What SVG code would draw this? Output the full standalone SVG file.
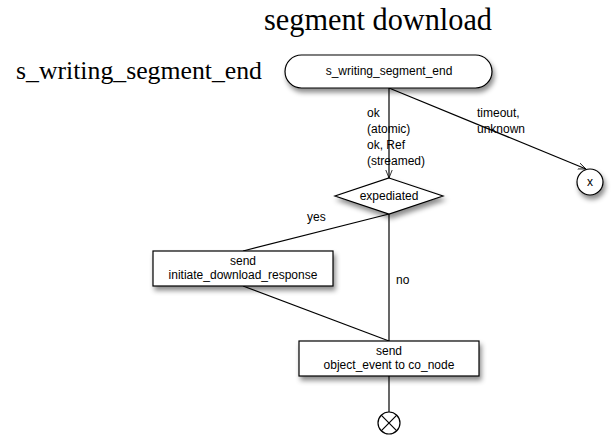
<svg xmlns="http://www.w3.org/2000/svg" width="614" height="436" viewBox="0 0 614 436">
<defs>
<filter id="sh" x="-20%" y="-20%" width="150%" height="160%">
<feDropShadow dx="2" dy="4" stdDeviation="2.5" flood-color="#000" flood-opacity="0.45"/>
</filter>
<marker id="arr" viewBox="0 0 10 10" refX="10" refY="5" markerWidth="8" markerHeight="8" orient="auto" markerUnits="userSpaceOnUse">
<path d="M0,1 L10,5 L0,9" fill="none" stroke="#000" stroke-width="1"/>
</marker>
</defs>
<style>
.n{fill:#fff;stroke:#000;stroke-width:1.2;filter:url(#sh)}
.t{font-family:"Liberation Sans",Arial,sans-serif;font-size:12px;fill:#000}
.c{text-anchor:middle}
.e{stroke:#000;stroke-width:1.2;fill:none}
.h{font-family:"Liberation Serif","DejaVu Serif",serif;fill:#000}
</style>
<rect width="614" height="436" fill="#fff"/>
<text class="h" x="264" y="30" font-size="31" textLength="228" lengthAdjust="spacingAndGlyphs">segment download</text>
<text class="h" x="16" y="79" font-size="25" textLength="246" lengthAdjust="spacingAndGlyphs">s_writing_segment_end</text>
<g id="connectors">
<line class="e" x1="389" y1="88" x2="389" y2="178" marker-end="url(#arr)"/>
<line class="e" x1="389" y1="88" x2="586" y2="169" marker-end="url(#arr)"/>
<line class="e" x1="389" y1="214" x2="243" y2="251"/>
<line class="e" x1="389" y1="214" x2="389" y2="341"/>
<line class="e" x1="243" y1="286" x2="389" y2="341"/>
<line class="e" x1="389" y1="376" x2="389" y2="412"/>
<text class="t" x="367" y="117">ok</text>
<text class="t" x="367" y="133">(atomic)</text>
<text class="t" x="367" y="149">ok, Ref</text>
<text class="t" x="367" y="165">(streamed)</text>
<text class="t" x="477" y="117">timeout,</text>
<text class="t" x="477" y="133">unknown</text>
<text class="t" x="307" y="221">yes</text>
<text class="t" x="396" y="284">no</text>
</g>
<g id="start">
<rect class="n" x="285" y="55" width="207" height="33" rx="16.5" ry="16.5"/>
<text class="t c" x="389" y="75" font-size="11">s_writing_segment_end</text>
</g>
<g id="expediated">
<polygon class="n" points="389,178 443,196 389,214 335,196"/>
<text class="t c" x="389" y="200">expediated</text>
</g>
<g id="abort">
<circle class="n" cx="590" cy="182" r="13"/>
<text class="t c" x="590" y="186" font-size="11">x</text>
</g>
<g id="send_response">
<rect class="n" x="153" y="251" width="180" height="35"/>
<text class="t c" x="243" y="265">send</text>
<text class="t c" x="243" y="279">initiate_download_response</text>
</g>
<g id="send_event">
<rect class="n" x="299" y="341" width="180" height="35"/>
<text class="t c" x="389" y="355">send</text>
<text class="t c" x="389" y="369">object_event to co_node</text>
</g>
<g id="end">
<circle cx="389" cy="423" r="11" fill="#fff" stroke="#000" stroke-width="1.2"/>
<path d="M381.2,415.2 L396.8,430.8 M396.8,415.2 L381.2,430.8" stroke="#000" stroke-width="1.2"/>
</g>
</svg>
